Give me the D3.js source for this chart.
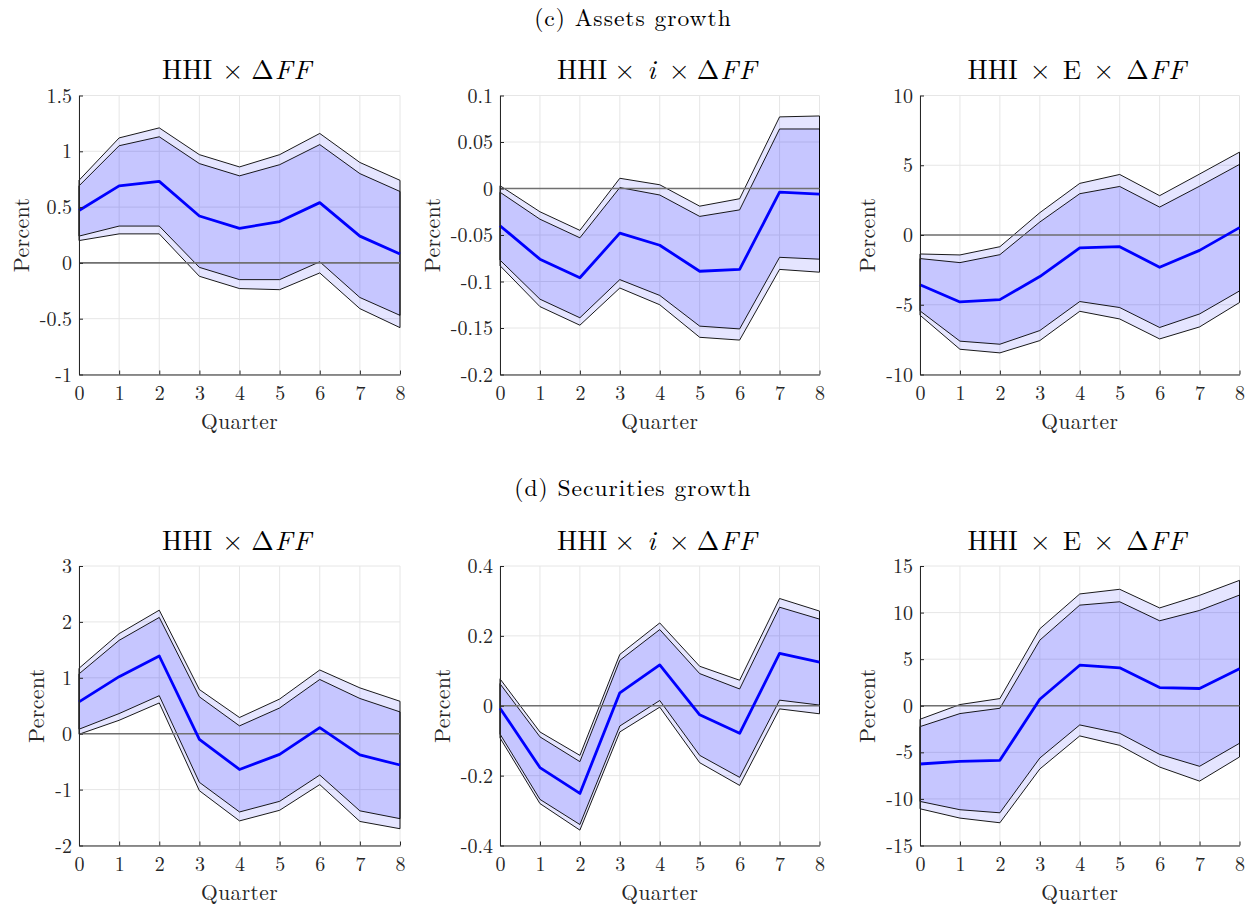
<!DOCTYPE html>
<html><head><meta charset="utf-8">
<script src="https://cdn.jsdelivr.net/npm/d3@7"></script>
<style>body{margin:0;background:#fff}svg{display:block}</style>
</head><body><svg id="c" width="1253" height="904"></svg>
<script>
const quarters = [0,1,2,3,4,5,6,7,8];
const sectionTitles = ["(c) Assets growth", "(d) Securities growth"];

// (c) Assets growth — HHI x dFF
const a1OuterHi = [0.74,1.12,1.21,0.97,0.86,0.97,1.16,0.90,0.74];
const a1InnerHi = [0.69,1.05,1.13,0.89,0.78,0.88,1.06,0.80,0.64];
const a1Mean    = [0.47,0.69,0.73,0.42,0.31,0.37,0.54,0.24,0.08];
const a1InnerLo = [0.24,0.33,0.33,-0.04,-0.15,-0.15,0.01,-0.31,-0.47];
const a1OuterLo = [0.20,0.26,0.26,-0.12,-0.23,-0.24,-0.09,-0.41,-0.58];
const a1Ticks = [-1,-0.5,0,0.5,1,1.5];
const a1Labels = ["-1","-0.5","0","0.5","1","1.5"];

// (c) Assets growth — HHI x i x dFF
const a2OuterHi = [0.003,-0.025,-0.045,0.011,0.004,-0.019,-0.011,0.077,0.078];
const a2InnerHi = [-0.004,-0.033,-0.053,0.001,-0.007,-0.030,-0.023,0.064,0.064];
const a2Mean    = [-0.040,-0.076,-0.096,-0.048,-0.061,-0.089,-0.087,-0.004,-0.006];
const a2InnerLo = [-0.077,-0.119,-0.139,-0.098,-0.115,-0.148,-0.151,-0.074,-0.076];
const a2OuterLo = [-0.083,-0.127,-0.147,-0.107,-0.125,-0.160,-0.163,-0.087,-0.090];
const a2Ticks = [-0.2,-0.15,-0.1,-0.05,0,0.05,0.1];
const a2Labels = ["-0.2","-0.15","-0.1","-0.05","0","0.05","0.1"];

// (c) Assets growth — HHI x E x dFF
const a3OuterHi = [-1.36,-1.43,-0.84,1.60,3.70,4.34,2.82,4.37,5.94];
const a3InnerHi = [-1.69,-1.98,-1.41,0.93,2.96,3.48,2.00,3.50,5.06];
const a3Mean    = [-3.56,-4.80,-4.63,-2.98,-0.93,-0.84,-2.31,-1.10,0.53];
const a3InnerLo = [-5.44,-7.61,-7.83,-6.85,-4.77,-5.20,-6.63,-5.66,-4.01];
const a3OuterLo = [-5.75,-8.19,-8.45,-7.57,-5.47,-6.02,-7.45,-6.59,-4.84];
const a3Ticks = [-10,-5,0,5,10];
const a3Labels = ["-10","-5","0","5","10"];

// (d) Securities growth — HHI x dFF
const s1OuterHi = [1.17,1.79,2.21,0.79,0.29,0.62,1.14,0.82,0.58];
const s1InnerHi = [1.07,1.67,2.08,0.66,0.14,0.46,0.97,0.63,0.39];
const s1Mean    = [0.57,1.02,1.39,-0.10,-0.64,-0.37,0.11,-0.38,-0.56];
const s1InnerLo = [0.08,0.36,0.68,-0.87,-1.40,-1.21,-0.74,-1.38,-1.52];
const s1OuterLo = [-0.01,0.24,0.55,-1.02,-1.56,-1.37,-0.91,-1.57,-1.70];
const s1Ticks = [-2,-1,0,1,2,3];
const s1Labels = ["-2","-1","0","1","2","3"];

// (d) Securities growth — HHI x i x dFF
const s2OuterHi = [0.077,-0.075,-0.142,0.147,0.237,0.113,0.073,0.307,0.271];
const s2InnerHi = [0.063,-0.089,-0.160,0.130,0.218,0.092,0.048,0.282,0.248];
const s2Mean    = [-0.007,-0.177,-0.251,0.037,0.117,-0.026,-0.079,0.150,0.125];
const s2InnerLo = [-0.081,-0.268,-0.340,-0.058,0.015,-0.142,-0.205,0.016,0.002];
const s2OuterLo = [-0.092,-0.280,-0.356,-0.075,-0.004,-0.163,-0.228,-0.009,-0.023];
const s2Ticks = [-0.4,-0.2,0,0.2,0.4];
const s2Labels = ["-0.4","-0.2","0","0.2","0.4"];

// (d) Securities growth — HHI x E x dFF
const s3OuterHi = [-1.45,0.13,0.77,8.26,12.0,12.5,10.5,11.85,13.46];
const s3InnerHi = [-2.24,-0.84,-0.27,7.04,10.8,11.16,9.12,10.23,11.88];
const s3Mean    = [-6.25,-5.97,-5.86,0.70,4.35,4.07,1.95,1.85,3.96];
const s3InnerLo = [-10.27,-11.16,-11.49,-5.61,-2.06,-2.96,-5.22,-6.50,-4.03];
const s3OuterLo = [-11.06,-12.06,-12.56,-6.79,-3.24,-4.25,-6.58,-8.09,-5.50];
const s3Ticks = [-15,-10,-5,0,5,10,15];
const s3Labels = ["-15","-10","-5","0","5","10","15"];

const panels = [
  {row:0,col:0,kind:"ff", oh:a1OuterHi,ih:a1InnerHi,m:a1Mean,il:a1InnerLo,ol:a1OuterLo,ticks:a1Ticks,labels:a1Labels},
  {row:0,col:1,kind:"iff",oh:a2OuterHi,ih:a2InnerHi,m:a2Mean,il:a2InnerLo,ol:a2OuterLo,ticks:a2Ticks,labels:a2Labels},
  {row:0,col:2,kind:"eff",oh:a3OuterHi,ih:a3InnerHi,m:a3Mean,il:a3InnerLo,ol:a3OuterLo,ticks:a3Ticks,labels:a3Labels},
  {row:1,col:0,kind:"ff", oh:s1OuterHi,ih:s1InnerHi,m:s1Mean,il:s1InnerLo,ol:s1OuterLo,ticks:s1Ticks,labels:s1Labels},
  {row:1,col:1,kind:"iff",oh:s2OuterHi,ih:s2InnerHi,m:s2Mean,il:s2InnerLo,ol:s2OuterLo,ticks:s2Ticks,labels:s2Labels},
  {row:1,col:2,kind:"eff",oh:s3OuterHi,ih:s3InnerHi,m:s3Mean,il:s3InnerLo,ol:s3OuterLo,ticks:s3Ticks,labels:s3Labels}
];

const FONT = "'Latin Modern Roman','Liberation Serif',serif";
const svg = d3.select("#c");
const colX = [[79,400],[500,819.5],[920,1239.5]];
const rowY = [[95.5,374.5],[566,845.5]];
const secBaseline = [25.5,495.5];

sectionTitles.forEach((t,i)=>{
  svg.append("text").attr("x",633).attr("y",secBaseline[i]).attr("text-anchor","middle")
    .style("font-family",FONT).style("font-size","23.5px").style("letter-spacing","1px").attr("fill","#000").text(t);
});

panels.forEach(p=>{
  const [x0,x1] = colX[p.col], [y0,y1] = rowY[p.row];
  const x = d3.scaleLinear().domain([0,8]).range([x0,x1]);
  const y = d3.scaleLinear().domain([p.ticks[0],p.ticks[p.ticks.length-1]]).range([y1,y0]);
  const g = svg.append("g");

  g.append("g").selectAll("line").data(p.ticks).join("line")
    .attr("x1",x0).attr("x2",x1).attr("y1",d=>y(d)).attr("y2",d=>y(d))
    .attr("stroke","#e6e6e6").attr("stroke-width",1);
  g.append("g").selectAll("line").data(quarters).join("line")
    .attr("x1",d=>x(d)).attr("x2",d=>x(d)).attr("y1",y0).attr("y2",y1)
    .attr("stroke","#e6e6e6").attr("stroke-width",1);

  const area = (hi,lo)=>d3.area().x((d,i)=>x(quarters[i])).y0((d,i)=>y(lo[i])).y1((d,i)=>y(hi[i]))(quarters);
  g.append("path").attr("d",area(p.oh,p.ih)).attr("fill","#0000ff").attr("fill-opacity",0.1);
  g.append("path").attr("d",area(p.il,p.ol)).attr("fill","#0000ff").attr("fill-opacity",0.1);
  g.append("path").attr("d",area(p.ih,p.il)).attr("fill","#0000ff").attr("fill-opacity",0.225);
  g.append("path").attr("d",area(p.oh,p.ol)+"Z").attr("fill","none").attr("stroke","#000").attr("stroke-width",0.9);
  g.append("path").attr("d",area(p.ih,p.il)+"Z").attr("fill","none").attr("stroke","#000").attr("stroke-width",0.9);

  g.append("line").attr("x1",x0).attr("x2",x1).attr("y1",y(0)).attr("y2",y(0))
    .attr("stroke","#707070").attr("stroke-width",1.6);

  g.append("path").datum(p.m)
    .attr("d",d3.line().x((d,i)=>x(quarters[i])).y(d=>y(d)))
    .attr("fill","none").attr("stroke","#0000ff").attr("stroke-width",2.8).attr("stroke-linejoin","round");

  const yAx = g.append("g").attr("transform",`translate(${x0},0)`)
    .call(d3.axisLeft(y).tickValues(p.ticks).tickFormat((d,i)=>p.labels[i]).tickSizeInner(-4).tickSizeOuter(0).tickPadding(11));
  const xAx = g.append("g").attr("transform",`translate(0,${y1})`)
    .call(d3.axisBottom(x).tickValues(quarters).tickFormat(d=>d).tickSizeInner(-4).tickSizeOuter(0).tickPadding(11));
  [yAx,xAx].forEach(a=>{
    a.select(".domain").attr("stroke","#262626").attr("stroke-width",1);
    a.selectAll(".tick line").attr("stroke","#262626").attr("stroke-width",1);
    a.selectAll("text").style("font-family",FONT).style("font-size","20px").attr("fill","#262626");
  });
  xAx.selectAll("text").attr("dy",null).attr("y",25.5);
  yAx.selectAll("text").attr("x",-7).attr("dy","0.33em");

  const cx = (x0+x1)/2, cy = (y0+y1)/2;
  g.append("text").attr("x",cx).attr("y",y1+54).attr("text-anchor","middle").attr("fill","#262626")
    .style("font-family",FONT).style("font-size","21.5px").style("letter-spacing","0.4px").text("Quarter");
  const bb = yAx.node().getBBox();
  const lx = x0 + bb.x - 11;
  g.append("text").attr("transform",`translate(${lx},${cy}) rotate(-90)`).attr("text-anchor","middle").attr("fill","#262626")
    .style("font-family",FONT).style("font-size","22px").style("letter-spacing","0.3px").text("Percent");

  const t = g.append("text").attr("x",cx-3).attr("y",y0-16.5).attr("text-anchor","middle")
    .style("font-family",FONT).style("font-size","27px").attr("fill","#000");
  t.append("tspan").text("HHI");
  if (p.kind==="iff") {
    t.append("tspan").attr("dx",7).text("×");
    t.append("tspan").attr("dx",12).style("font-style","italic").text("i");
    t.append("tspan").attr("dx",13).text("×");
    t.append("tspan").attr("dx",7).text("Δ");
  } else if (p.kind==="eff") {
    t.append("tspan").attr("dx",12).text("×");
    t.append("tspan").attr("dx",12).text("E");
    t.append("tspan").attr("dx",12).text("×");
    t.append("tspan").attr("dx",12).text("Δ");
  } else {
    t.append("tspan").attr("dx",10).text("×");
    t.append("tspan").attr("dx",8).text("Δ");
  }
  t.append("tspan").style("font-style","italic").attr("dx",1).text("F");
  t.append("tspan").style("font-style","italic").attr("dx",1).text("F");
});
</script></body></html>
